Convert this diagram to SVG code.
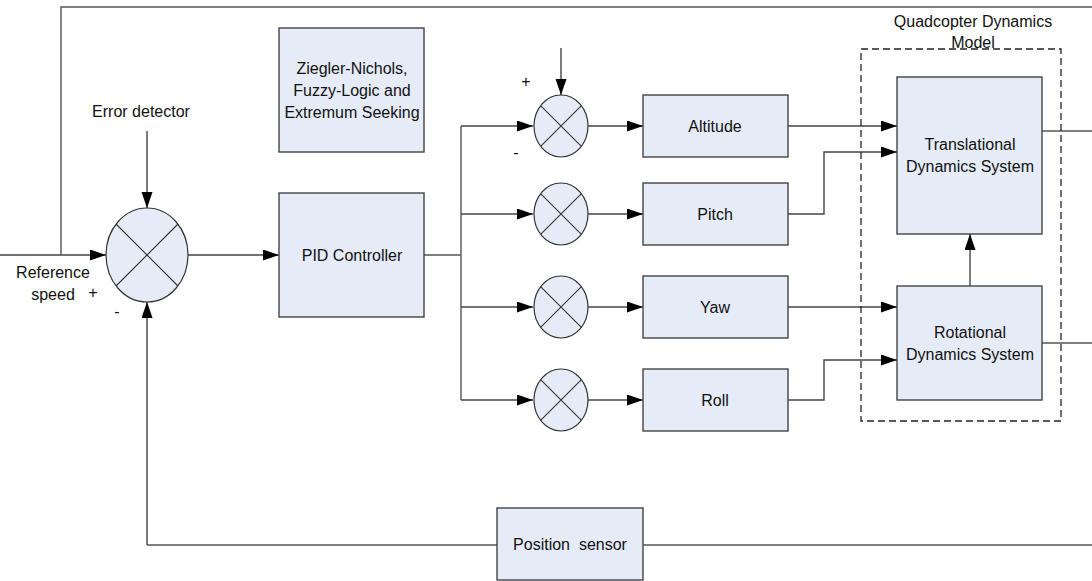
<svg xmlns="http://www.w3.org/2000/svg" width="1092" height="581" viewBox="0 0 1092 581">
<style>
text{font-family:"Liberation Sans",Arial,sans-serif;font-size:16px;fill:#111;text-anchor:middle}
.box{fill:#E6ECF7;stroke:#444;stroke-width:1.4}
.sum{fill:#E6ECF7;stroke:#333;stroke-width:1.2}
.x{stroke:#333;stroke-width:1.1}
.ln{fill:none;stroke:#555;stroke-width:1.4}
.ar{fill:none;stroke:#444;stroke-width:1.4;marker-end:url(#ah)}
.dash{fill:none;stroke:#222;stroke-width:1.3;stroke-dasharray:7,4}
</style>
<defs>
<marker id="ah" markerUnits="userSpaceOnUse" markerWidth="17" markerHeight="12" refX="16" refY="5.5" orient="auto">
<path d="M0,0 L16,5.5 L0,11 z" fill="#000"/>
</marker>
</defs>
<rect width="1092" height="581" fill="#fff"/>
<g id="connectors">
<path class="ln" d="M61,255 V7 H1092"/>
<path class="ar" d="M0,255 H106"/>
<path class="ar" d="M147,131 V208"/>
<path class="ar" d="M188,255 H279"/>
<path class="ln" d="M424,255 H461"/>
<path class="ln" d="M461,126 V400"/>
<path class="ar" d="M461,126 H533"/>
<path class="ar" d="M461,214 H533"/>
<path class="ar" d="M461,307 H533"/>
<path class="ar" d="M461,400 H533"/>
<path class="ar" d="M561,48 V95"/>
<path class="ar" d="M588,126 H643"/>
<path class="ar" d="M588,214 H643"/>
<path class="ar" d="M588,307 H643"/>
<path class="ar" d="M588,400 H643"/>
<path class="ar" d="M788,126 H897"/>
<path class="ar" d="M788,214 H824 V152 H897"/>
<path class="ar" d="M788,307 H897"/>
<path class="ar" d="M788,400 H824 V360 H897"/>
<path class="ar" d="M970,286 V234"/>
<path class="ln" d="M1042,131 H1092"/>
<path class="ln" d="M1042,343 H1092"/>
<path class="ln" d="M1092,545 H147"/>
<path class="ar" d="M147,545 V302"/>
</g>
<g id="dynamics-model">
<rect class="dash" x="861" y="49" width="200" height="372"/>
<text x="973" y="27">Quadcopter Dynamics</text>
<text x="973" y="48">Model</text>
</g>
<g id="error-detector">
<ellipse class="sum" cx="147" cy="255" rx="41" ry="47"/>
<path class="x" d="M116,224 L178,286 M178,224 L116,286"/>
<text x="141" y="117">Error detector</text>
<text x="53" y="278">Reference</text>
<text x="53" y="300">speed</text>
<text x="93" y="298">+</text>
<text x="117" y="317">-</text>
</g>
<g id="tuning">
<rect class="box" x="279" y="28" width="145" height="124"/>
<text x="352" y="74">Ziegler-Nichols,</text>
<text x="352" y="96">Fuzzy-Logic and</text>
<text x="352" y="118">Extremum Seeking</text>
</g>
<g id="pid">
<rect class="box" x="279" y="193" width="145" height="124"/>
<text x="352" y="261">PID Controller</text>
</g>
<g id="sum-altitude">
<ellipse class="sum" cx="561" cy="126" rx="27" ry="31"/>
<path class="x" d="M540.6,105.6 L581.4,146.4 M581.4,105.6 L540.6,146.4"/>
<text x="526" y="87">+</text>
<text x="516" y="158">-</text>
</g>
<g id="sum-pitch">
<ellipse class="sum" cx="561" cy="214" rx="27" ry="31"/>
<path class="x" d="M540.6,193.6 L581.4,234.4 M581.4,193.6 L540.6,234.4"/>
</g>
<g id="sum-yaw">
<ellipse class="sum" cx="561" cy="307" rx="27" ry="31"/>
<path class="x" d="M540.6,286.6 L581.4,327.4 M581.4,286.6 L540.6,327.4"/>
</g>
<g id="sum-roll">
<ellipse class="sum" cx="561" cy="400" rx="27" ry="31"/>
<path class="x" d="M540.6,379.6 L581.4,420.4 M581.4,379.6 L540.6,420.4"/>
</g>
<g id="altitude">
<rect class="box" x="643" y="95" width="145" height="62"/>
<text x="715" y="132">Altitude</text>
</g>
<g id="pitch">
<rect class="box" x="643" y="183" width="145" height="62"/>
<text x="715" y="220">Pitch</text>
</g>
<g id="yaw">
<rect class="box" x="643" y="276" width="145" height="62"/>
<text x="715" y="313">Yaw</text>
</g>
<g id="roll">
<rect class="box" x="643" y="369" width="145" height="62"/>
<text x="715" y="406">Roll</text>
</g>
<g id="translational">
<rect class="box" x="897" y="77" width="145" height="157"/>
<text x="970" y="150">Translational</text>
<text x="970" y="172">Dynamics System</text>
</g>
<g id="rotational">
<rect class="box" x="897" y="286" width="145" height="114"/>
<text x="970" y="338">Rotational</text>
<text x="970" y="360">Dynamics System</text>
</g>
<g id="position-sensor">
<rect class="box" x="497" y="508" width="146" height="72"/>
<text x="570" y="550" xml:space="preserve">Position  sensor</text>
</g>
</svg>
